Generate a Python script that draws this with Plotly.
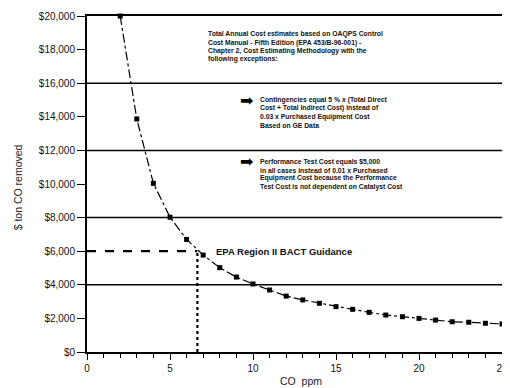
import plotly.graph_objects as go

# CO concentration (ppm) and cost effectiveness ($/ton CO removed)
co_ppm = [2, 3, 4, 5, 6, 7, 8, 9, 10, 11, 12, 13, 14, 15, 16, 17, 18, 19, 20, 21, 22, 23, 24, 25]
cost_per_ton = [20000, 13870, 10040, 8020, 6700, 5770, 5020, 4460, 4050, 3690, 3330, 3100,
                2900, 2700, 2540, 2360, 2200, 2100, 2000, 1900, 1800, 1770, 1710, 1670]

# reference lines
band_lines = [16000, 12000, 8000, 4000]
guidance_cost = 6000
guidance_ppm = 6.65

note_main = ["Total Annual Cost estimates based on OAQPS Control",
             "Cost Manual - Fifth Edition (EPA 453/B-96-001) -",
             "Chapter 2, Cost Estimating Methodology with the",
             "following exceptions:"]
note_cont = ["Contingencies equal 5 % x (Total Direct",
             "Cost + Total Indirect Cost) instead of",
             "0.03 x Purchased Equipment Cost",
             "Based on GE Data"]
note_perf = ["Performance Test Cost equals $5,000",
             "in all cases instead of 0.01 x Purchased",
             "Equipment Cost because the Performance",
             "Test Cost is not dependent on Catalyst Cost"]

FONT = "Liberation Sans, Arial, sans-serif"

fig = go.Figure()

fig.add_trace(go.Scatter(
    x=co_ppm, y=cost_per_ton,
    mode="lines+markers",
    line=dict(color="black", width=1.2, dash="dashdot"),
    marker=dict(symbol="square", size=5, color="black"),
    cliponaxis=False,
    showlegend=False,
))

shapes = []
for v in band_lines:
    shapes.append(dict(type="line", xref="x", yref="y", x0=0, x1=25, y0=v, y1=v,
                       line=dict(color="black", width=1.5)))
shapes.append(dict(type="line", xref="x", yref="y", x0=0, x1=guidance_ppm,
                   y0=guidance_cost, y1=guidance_cost,
                   line=dict(color="black", width=2.2, dash="dash")))
shapes.append(dict(type="line", xref="x", yref="y", x0=guidance_ppm, x1=guidance_ppm,
                   y0=0, y1=guidance_cost,
                   line=dict(color="black", width=2.2, dash="dot")))

annotations = []

def note(lines, x, y_top):
    # one annotation per line so the spacing stays tight
    for i, t in enumerate(lines):
        annotations.append(dict(x=x, y=y_top - i * 500, xref="x", yref="y",
                                text="<b>" + t + "</b>", showarrow=False,
                                xanchor="left", yanchor="middle",
                                font=dict(family=FONT, size=6.8, color="#111")))

note(note_main, 7.19, 18920)
note(note_cont, 10.31, 15000)
note(note_perf, 10.31, 11330)

for yv in [15000, 11330]:
    annotations.append(dict(x=9.62, y=yv, xref="x", yref="y", text="➡", showarrow=False,
                            xanchor="center", yanchor="middle",
                            font=dict(family="DejaVu Sans", size=16, color="black")))

annotations.append(dict(x=7.66, y=6000, xref="x", yref="y",
                        text="<b>EPA Region II BACT Guidance</b>", showarrow=False,
                        xanchor="left", yanchor="middle",
                        font=dict(family=FONT, size=9.5, color="#111")))

annotations.append(dict(x=0, y=0.49, xref="paper", yref="paper", xshift=-69,
                        text="$ ton CO removed", textangle=-90, showarrow=False,
                        xanchor="center", yanchor="middle",
                        font=dict(family=FONT, size=10.5, color="#222")))
annotations.append(dict(x=12.9, y=0, xref="x", yref="paper", yshift=-29,
                        text="CO  ppm", showarrow=False,
                        xanchor="center", yanchor="middle",
                        font=dict(family=FONT, size=10.5, color="#222")))

# page body adds an 8px offset, so the figure is drawn 8px smaller
fig.update_layout(
    width=502, height=380,
    margin=dict(l=79, r=2, t=8, b=36),
    paper_bgcolor="white", plot_bgcolor="white",
    shapes=shapes, annotations=annotations,
    font=dict(family=FONT, color="#111"),
    xaxis=dict(range=[0, 25], tickvals=[0, 5, 10, 15, 20, 25], ticks="outside", ticklen=6,
               tickwidth=1.2, tickcolor="black", showgrid=False, zeroline=False,
               showline=True, linecolor="black", linewidth=2, mirror=True,
               ticklabeloverflow="allow", tickfont=dict(size=10),
               minor=dict(dtick=1, ticks="outside", ticklen=4, tickcolor="black",
                          showgrid=False)),
    yaxis=dict(range=[0, 20000], dtick=2000, tickprefix="$", tickformat=",d",
               ticks="outside", ticklen=8, tickwidth=1.2, tickcolor="black",
               showgrid=False, zeroline=False, showline=True, linecolor="black",
               linewidth=2, mirror=True, tickfont=dict(size=10)),
)

fig.write_html("out.html")
